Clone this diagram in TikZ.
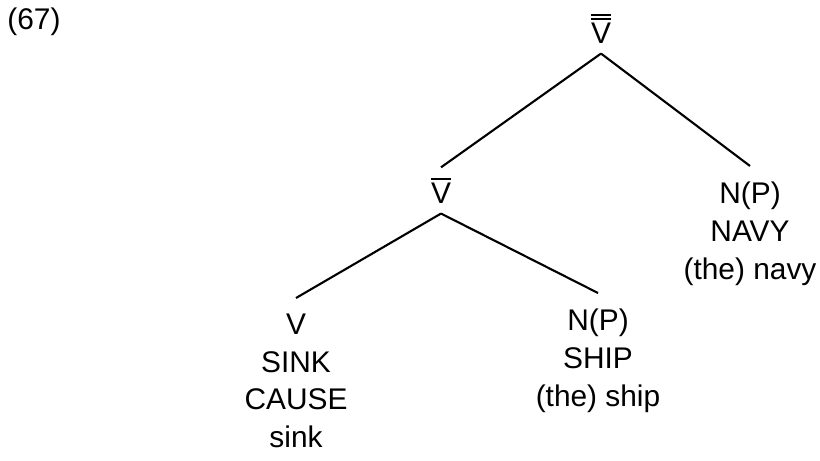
\documentclass[tikz,border=0pt]{standalone}
\usepackage{fontspec}
\setmainfont{Liberation Sans}
\usetikzlibrary{positioning}
% barred category labels
\newcommand{\barV}{\vbox{\hrule height 1pt\kern 1.6pt\hbox{V}}}
\newcommand{\dbarV}{\vbox{\hrule height 1pt\kern 1.3pt\hrule height 1pt\kern 1.6pt\hbox{V}}}

\begin{document}
\begin{tikzpicture}[x=0.02cm, y=-0.02cm,
    font=\fontsize{17}{21.5}\selectfont,
    cat/.style={inner sep=0pt, outer ysep=6pt, align=center},
    leaf/.style={inner sep=0pt, outer ysep=9pt, align=center, anchor=north},
    branch/.style={line width=1.2pt}]
    \useasboundingbox (0,0) rectangle (820,460);

    % example number
    \node[anchor=west, inner sep=0pt] (num) at (7,22) {(67)};

    % tree labels
    \node[cat, anchor=base] (vbb) at (601,43) {\dbarV};
    \node[cat, anchor=base] (vb) at (441,203) {\barV};
    \node[leaf] (navy) at (750,166) {N(P)\\NAVY\\(the) navy};
    \node[leaf] (sinkv) at (296,298) {V\\SINK\\CAUSE\\sink};
    \node[leaf] (ship) at (598,293) {N(P)\\SHIP\\(the) ship};

    % branches
    \draw[branch] (vbb.south) -- (vb.north);
    \draw[branch] (vbb.south) -- (navy.north);
    \draw[branch] (vb.south) -- (sinkv.north);
    \draw[branch] (vb.south) -- (ship.north);
\end{tikzpicture}
\end{document}
